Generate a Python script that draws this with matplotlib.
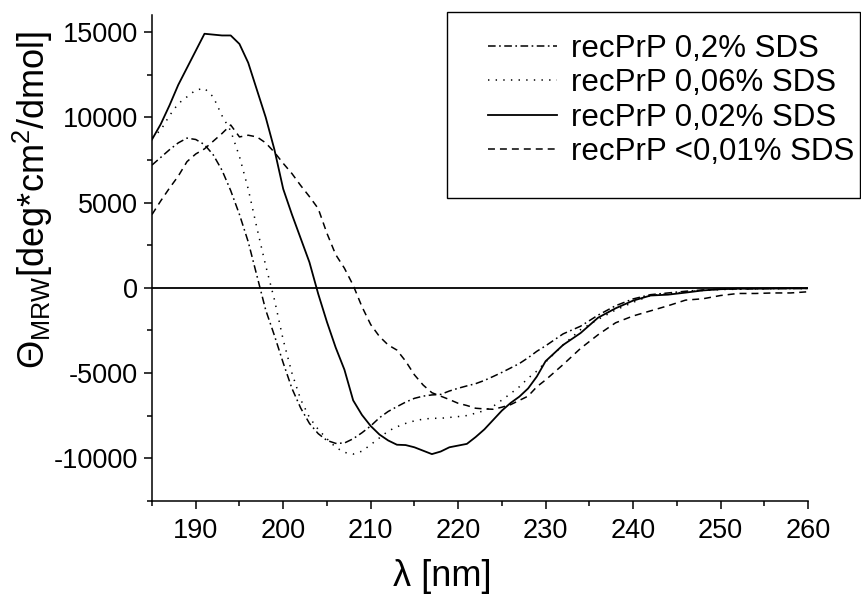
import matplotlib
matplotlib.use("Agg")
import matplotlib.pyplot as plt
from matplotlib.patches import Rectangle
from matplotlib.ticker import MultipleLocator

plt.rcParams['font.family'] = ['Liberation Sans', 'DejaVu Sans']
plt.rcParams['mathtext.fontset'] = 'custom'
plt.rcParams['mathtext.rm'] = 'Liberation Sans'
plt.rcParams['mathtext.it'] = 'Liberation Sans'
plt.rcParams['axes.unicode_minus'] = False
plt.rcParams['lines.scale_dashes'] = False

wavelength = [185, 186, 187, 188, 189, 190, 191, 192, 193, 194, 195, 196, 197, 198, 199,
              200, 201, 202, 203, 204, 205, 206, 207, 208, 209, 210, 211, 212, 213, 214,
              215, 216, 217, 218, 219, 220, 221, 222, 223, 224, 225, 226, 227, 228, 229,
              230, 232, 234, 236, 238, 240, 242, 244, 246, 248, 250, 252, 254, 256, 258, 260]

sds_02 = [7200, 7650, 8100, 8500, 8780, 8700, 8400, 7800, 6900, 5700, 4300, 2700, 700, -1300, -2800,
          -4400, -5900, -7050, -7950, -8550, -8950, -9120, -9100, -8850, -8500, -8100, -7620, -7250, -6970, -6700,
          -6480, -6350, -6280, -6250, -6050, -5890, -5750, -5620, -5430, -5200, -4960, -4700, -4440, -4100, -3720,
          -3400, -2700, -2250, -1600, -1050, -650, -400, -300, -200, -120, -80, -60, -50, -40, -40, -30]

sds_006 = [8800, 9250, 10100, 10800, 11200, 11600, 11700, 11200, 10100, 9200, 7700, 5800, 3500, 1300, -700,
           -3050, -5000, -6550, -7600, -8300, -8850, -9350, -9650, -9750, -9580, -9200, -8800, -8400, -8150, -7950,
           -7800, -7700, -7650, -7650, -7600, -7550, -7490, -7350, -7200, -6950, -6580, -6200, -5800, -5300, -4880,
           -4350, -3350, -2450, -1850, -1300, -850, -450, -350, -250, -150, -100, -80, -60, -50, -40, -40]

sds_002 = [8700, 9600, 10700, 11900, 12900, 13900, 14900, 14850, 14800, 14800, 14300, 13200, 11600, 10000, 8100,
           5800, 4300, 2900, 1500, -350, -2000, -3500, -4800, -6600, -7450, -8100, -8600, -8950, -9200, -9220,
           -9350, -9550, -9750, -9600, -9350, -9250, -9150, -8750, -8300, -7750, -7200, -6750, -6380, -5900, -5200,
           -4300, -3350, -2650, -1750, -1200, -750, -450, -400, -280, -150, -80, -50, -50, -40, -30, -30]

sds_001 = [4300, 5100, 5850, 6550, 7400, 7850, 8150, 8600, 9050, 9550, 8850, 8950, 8850, 8500, 7950,
           7300, 6700, 6000, 5350, 4650, 3200, 1950, 1150, 150, -1100, -2150, -2850, -3350, -3650, -4300,
           -5100, -5700, -6150, -6350, -6550, -6770, -6900, -7060, -7100, -7120, -7000, -6850, -6600, -6350, -5800,
           -5400, -4500, -3550, -2750, -2050, -1650, -1350, -1050, -720, -640, -450, -330, -330, -300, -300, -230]

labels = ['recPrP 0,2% SDS', 'recPrP 0,06% SDS', 'recPrP 0,02% SDS', 'recPrP <0,01% SDS']

W, H = 862, 595
fig = plt.figure(figsize=(W / 100, H / 100), dpi=100)
ax = fig.add_axes([152 / W, 1 - 501 / H, (808 - 152) / W, (501 - 15) / H])

lw = 1.1
l1, = ax.plot(wavelength, sds_02, color='black', lw=lw, linestyle=(0, (5.5, 2.5, 1.2, 2.5)))
l2, = ax.plot(wavelength, sds_006, color='black', lw=lw, linestyle=(0, (1.0, 4.5)))
l3, = ax.plot(wavelength, sds_002, color='black', lw=1.3, linestyle='-')
l4, = ax.plot(wavelength, sds_001, color='black', lw=lw, linestyle=(0, (5, 3.6)))
ax.axhline(0, color='black', lw=1.3)

ax.set_xlim(185, 260)
ax.set_ylim(-12500, 16000)
ax.xaxis.set_major_locator(MultipleLocator(10))
ax.xaxis.set_minor_locator(MultipleLocator(5))
ax.yaxis.set_major_locator(MultipleLocator(5000))
ax.yaxis.set_minor_locator(MultipleLocator(2500))
ax.spines['top'].set_visible(False)
ax.spines['right'].set_visible(False)
for s in ('left', 'bottom'):
    ax.spines[s].set_linewidth(1.1)
ax.tick_params(which='major', direction='out', length=6, width=1.1, labelsize=19.5, pad=4)
ax.tick_params(which='minor', direction='out', length=3.5, width=1.1)
ax.tick_params(axis='x', which='major', pad=6)
ax.set_xticks([190, 200, 210, 220, 230, 240, 250, 260])
ax.set_xticklabels(['190', '200', '210', '220', '230', '240', '250', '260'])

fig.text(33 / W, 1 - 200 / H, r'$\Theta_{\mathrm{MRW}}$[deg*cm$^2$/dmol]', rotation=90,
         ha='center', va='center', fontsize=26)
fig.text(442 / W, 1 - 577 / H, 'λ [nm]', ha='center', va='center', fontsize=26)

leg = ax.legend([l1, l2, l3, l4], labels, loc='upper left',
                bbox_to_anchor=(488 / W, 1 - 34 / H), bbox_transform=fig.transFigure,
                frameon=False, fontsize=22.5, handlelength=2.2, handletextpad=0.45,
                labelspacing=0.14, borderpad=0, borderaxespad=0)
fig.add_artist(Rectangle((447 / W, 1 - 198 / H), (860 - 447) / W, (198 - 12) / H,
                         transform=fig.transFigure, fill=False, edgecolor='black', lw=1.0))

fig.savefig('out.png', dpi=100)
